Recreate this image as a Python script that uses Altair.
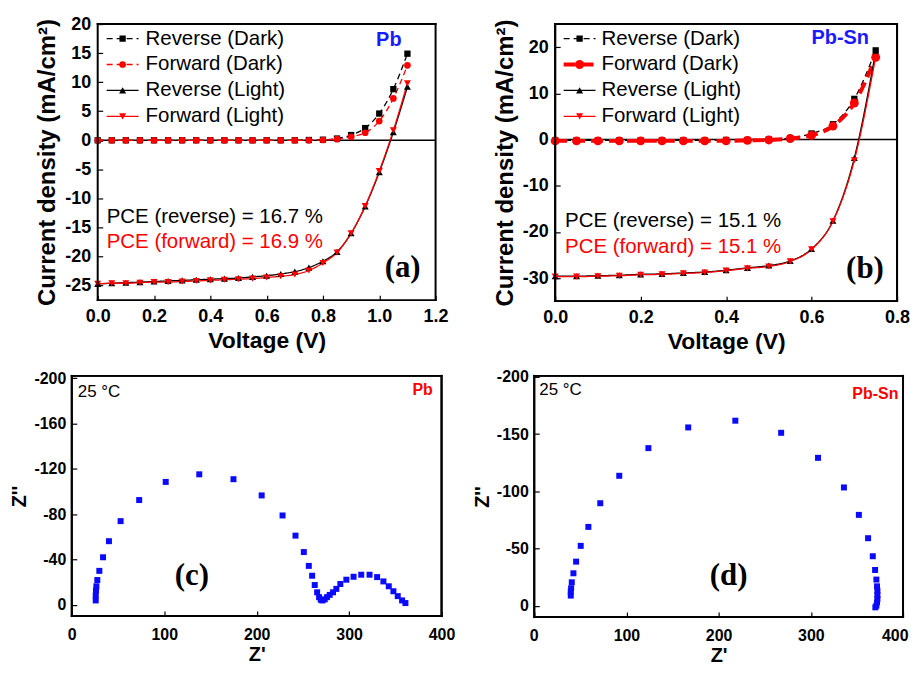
import altair as alt
import pandas as pd

FONT = "Liberation Sans"
SERIF = "Liberation Serif"
RED = "#ff0000"
BLUE = "#1a1aff"
FRAME_W = 2.0

SERIES = ["Reverse (Dark)", "Forward (Dark)", "Reverse (Light)", "Forward (Light)"]
SERIES_PTS = ["pt " + s for s in SERIES]
SERIES_COLORS = ["#000000", RED, "#000000", RED]
SERIES_SHAPES = ["square", "circle", "triangle-up", "triangle-down"]

# ---------------- panel (a): Pb J-V ----------------
V_A = [0.0, 0.05, 0.1, 0.15, 0.2, 0.25, 0.3, 0.35, 0.4, 0.45, 0.5, 0.55,
       0.6, 0.65, 0.7, 0.75, 0.8, 0.85, 0.9, 0.95, 1.0, 1.05, 1.1]
A_REV_DARK = [0.0, 0.0, 0.0, 0.0, 0.0, 0.0, 0.0, 0.0, 0.0, 0.0, 0.0, 0.0,
              0.0, 0.0, 0.0, 0.05, 0.1, 0.3, 0.9, 2.1, 4.6, 8.8, 14.9]
A_FWD_DARK = [0.0, 0.0, 0.0, 0.0, 0.0, 0.0, 0.0, 0.0, 0.0, 0.0, 0.0, 0.0,
              0.0, 0.0, 0.0, 0.0, 0.05, 0.2, 0.6, 1.3, 3.3, 7.2, 12.9]
A_REV_LIGHT = [-24.7, -24.6, -24.5, -24.4, -24.3, -24.2, -24.1, -24.0, -23.9, -23.8, -23.7, -23.5,
               -23.3, -23.0, -22.6, -21.9, -20.8, -19.2, -16.0, -11.4, -5.5, 1.4, 9.2]
A_FWD_LIGHT = [-24.7, -24.6, -24.6, -24.5, -24.4, -24.4, -24.3, -24.2, -24.1, -24.0, -23.9, -23.8,
               -23.6, -23.4, -23.1, -22.4, -21.1, -19.3, -16.0, -11.3, -5.3, 1.7, 9.8]

# ---------------- panel (b): Pb-Sn J-V ----------------
V_B = [0.0, 0.05, 0.1, 0.15, 0.2, 0.25, 0.3, 0.35, 0.4, 0.45, 0.5, 0.55, 0.6, 0.65, 0.7, 0.75]
B_REV_DARK = [-0.2, -0.2, -0.2, -0.2, -0.2, -0.2, -0.2, -0.2, -0.1, -0.1, 0.0, 0.3, 1.3, 3.3, 8.8, 19.3]
B_FWD_DARK = [-0.3, -0.3, -0.3, -0.3, -0.3, -0.3, -0.3, -0.3, -0.3, -0.2, -0.1, 0.2, 0.9, 2.9, 7.9, 17.8]
B_REV_LIGHT = [-29.6, -29.6, -29.5, -29.4, -29.2, -29.1, -28.9, -28.7, -28.3, -27.8, -27.3, -26.3,
               -23.7, -17.6, -4.0, 19.0]
B_FWD_LIGHT = [-29.7, -29.7, -29.6, -29.5, -29.3, -29.2, -29.0, -28.8, -28.4, -27.9, -27.5, -26.4,
               -23.8, -17.7, -4.5, 17.9]

# ---------------- panel (c): Pb Nyquist ----------------
C_ZRE = [25.9, 25.9, 26.2, 26.6, 27.6, 29.8, 33.8, 40.2, 52.8, 72.9, 101.6, 137.9, 174.9, 205.4,
         228.0, 242.0, 251.0, 256.4, 260.0, 262.8, 265.4, 267.5, 269.3, 271.1, 273.6, 276.1, 279.0,
         282.6, 286.2, 290.5, 297.0, 304.8, 313.1, 322.1, 330.3, 337.1, 342.9, 347.9, 352.6, 357.3, 360.9]
C_ZIM = [-3.8, -8.1, -12.5, -16.3, -21.8, -29.9, -41.9, -56.1, -73.8, -92.4, -108.4, -115.1, -110.8,
         -96.5, -78.8, -61.0, -46.5, -34.3, -25.6, -17.4, -11.0, -6.7, -4.4, -3.8, -4.7, -6.7, -8.7,
         -11.0, -14.0, -18.3, -22.1, -24.7, -26.5, -26.5, -24.4, -20.6, -16.3, -11.9, -7.6, -3.8, -1.5]

# ---------------- panel (d): Pb-Sn Nyquist ----------------
D_ZRE = [39.6, 39.6, 40.0, 40.7, 42.5, 45.4, 50.4, 58.7, 71.6, 92.2, 123.8, 167.0, 218.1, 267.8,
         307.8, 335.9, 352.1, 362.1, 367.2, 369.7, 371.1, 371.8, 372.2, 372.2, 372.2, 371.8, 371.1, 370.0]
D_ZIM = [-8.8, -12.3, -15.2, -20.4, -28.3, -38.5, -52.3, -68.9, -89.6, -113.6, -137.8, -155.9, -161.8,
         -151.2, -129.3, -103.4, -79.4, -59.0, -43.2, -31.2, -22.8, -16.9, -13.1, -9.3, -5.8, -2.9, 0.0, 1.5]

X_TICKS_A = [0.0, 0.2, 0.4, 0.6, 0.8, 1.0, 1.2]
Y_TICKS_A = [-25, -20, -15, -10, -5, 0, 5, 10, 15, 20]
X_TICKS_B = [0.0, 0.2, 0.4, 0.6, 0.8]
Y_TICKS_B = [-30, -20, -10, 0, 10, 20]
X_TICKS_CD = [0, 100, 200, 300, 400]
Y_TICKS_C = [-200, -160, -120, -80, -40, 0]
Y_TICKS_D = [-200, -150, -100, -50, 0]

HYPHEN = "replace(datum.label, '\u2212', '-')"


def make_axis(values, title, label_size, title_size, label_pad, title_pad, fmt=None,
              offset=-5, **extra):
    kw = dict(values=values, title=title, labelFont=FONT, labelFontSize=label_size,
              labelFontWeight="bold", labelColor="black", titleFont=FONT,
              titleFontSize=title_size, titleFontWeight="bold", titleColor="black",
              domain=False, ticks=True, tickSize=5, tickColor="black", tickWidth=1.2,
              offset=offset, labelPadding=label_pad, titlePadding=title_pad, grid=False,
              labelFlush=False, labelOverlap=False, labelExpr=HYPHEN)
    if fmt:
        kw["format"] = fmt
    kw.update(extra)
    return alt.Axis(**kw)


def frame_layers(x, y, xdom, ydom):
    x0, x1 = xdom
    y0, y1 = ydom
    hdf = pd.DataFrame({"V": [x0, x0], "V2": [x1, x1], "J": [y0, y1]})
    vdf = pd.DataFrame({"V": [x0, x1], "J": [y0, y0], "J2": [y1, y1]})
    hframe = alt.Chart(hdf).mark_rule(color="black", strokeWidth=FRAME_W, strokeCap="square").encode(
        x=x, x2="V2:Q", y=y)
    vframe = alt.Chart(vdf).mark_rule(color="black", strokeWidth=FRAME_W, strokeCap="square").encode(
        x=x, y=y, y2="J2:Q")
    return [hframe, vframe]


def iv_frame(V, lists):
    rows = []
    for name, pname, vals in zip(SERIES, SERIES_PTS, lists):
        for v, j in zip(V, vals):
            rows.append({"V": v, "J": j, "series": name, "series2": pname})
    return pd.DataFrame(rows)


def text_layer(xenc, yenc, xv, yv, text, **mk):
    df = pd.DataFrame({"V": [xv], "J": [yv]})
    return alt.Chart(df).mark_text(text=text, **mk).encode(x=xenc, y=yenc)


def iv_panel(df, xdom, xticks, ydom, yticks, w, h, xoff, dashes, widths, sizes,
             leg_x, leg_y, leg_off, pt_leg_x, texts):
    x = alt.X("V:Q", scale=alt.Scale(domain=xdom, nice=False, zero=False, range=[xoff, xoff + w]),
              axis=make_axis(xticks, "Voltage (V)", 18, 23, 7, 5, ".1f"))
    y = alt.Y("J:Q", scale=alt.Scale(domain=ydom, nice=False, zero=False),
              axis=make_axis(yticks, "Current density (mA/cm²)", 18, 24, 7, 5,
                             offset=-(xoff + 5)))
    zero_df = pd.DataFrame({"V": [xdom[0]], "V2": [xdom[1]], "J": [0.0]})
    zero = alt.Chart(zero_df).mark_rule(color="black", strokeWidth=1.5).encode(
        x=x, x2="V2:Q", y=y)
    line_leg = alt.Legend(title=None, orient="none", legendX=leg_x, legendY=leg_y,
                          symbolType="stroke", symbolSize=1024, symbolStrokeWidth=1.3,
                          labelFont=FONT, labelFontSize=20.5, labelColor="black",
                          labelOffset=leg_off, labelLimit=400, clipHeight=26,
                          rowPadding=0, padding=0)
    pt_leg = alt.Legend(title=None, orient="none", legendX=pt_leg_x, legendY=leg_y,
                        labelFontSize=1, labelOpacity=0, clipHeight=26, rowPadding=0,
                        padding=0, symbolStrokeWidth=0)
    lines = alt.Chart(df).mark_line(interpolate="monotone").encode(
        x=x, y=y,
        color=alt.Color("series:N", scale=alt.Scale(domain=SERIES, range=SERIES_COLORS), legend=line_leg),
        strokeDash=alt.StrokeDash("series:N", scale=alt.Scale(type="ordinal", domain=SERIES, range=dashes),
                                  legend=line_leg),
        strokeWidth=alt.StrokeWidth("series:N", scale=alt.Scale(type="ordinal", domain=SERIES, range=widths),
                                    legend=line_leg),
    )
    pts = alt.Chart(df).mark_point(filled=True, opacity=1, strokeWidth=0).encode(
        x=x, y=y,
        fill=alt.Fill("series2:N", scale=alt.Scale(domain=SERIES_PTS, range=SERIES_COLORS), legend=pt_leg),
        shape=alt.Shape("series2:N", scale=alt.Scale(domain=SERIES_PTS, range=SERIES_SHAPES), legend=pt_leg),
        size=alt.Size("series2:N", scale=alt.Scale(type="ordinal", domain=SERIES_PTS, range=sizes),
                      legend=pt_leg),
    )
    layers = [zero, lines, pts]
    for (xv, yv, txt, mk) in texts:
        layers.append(text_layer(x, y, xv, yv, txt, **mk))
    layers += frame_layers(x, y, xdom, ydom)
    chart = alt.layer(*layers).properties(width=w + xoff, height=h)
    if xoff:
        chart = chart.properties(view=alt.ViewBackground(stroke="transparent"))
    return chart


def nyq_panel(zre, zim, ydom, yticks, w, h, texts, xaxis_extra):
    df = pd.DataFrame({"V": zre, "J": zim})
    x = alt.X("V:Q", scale=alt.Scale(domain=[0, 400], nice=False, zero=False),
              axis=make_axis(X_TICKS_CD, "Z'", 16, 20, 11, 2, **xaxis_extra))
    y = alt.Y("J:Q", scale=alt.Scale(domain=ydom, nice=False, zero=False, reverse=True),
              axis=make_axis(yticks, "Z''", 16, 20, 6, 4))
    pts = alt.Chart(df).mark_square(size=36, color="#0a0aff", opacity=1).encode(x=x, y=y)
    layers = [pts]
    for (xv, yv, txt, mk) in texts:
        layers.append(text_layer(x, y, xv, yv, txt, **mk))
    layers += frame_layers(x, y, [0, 400], ydom)
    return alt.layer(*layers).properties(width=w, height=h)


pce = dict(font=FONT, fontSize=20.5, align="left", baseline="middle")
lab = dict(font=SERIF, fontSize=31, fontWeight="bold", align="center", baseline="middle", color="black")

panel_a = iv_panel(
    iv_frame(V_A, [A_REV_DARK, A_FWD_DARK, A_REV_LIGHT, A_FWD_LIGHT]),
    [0, 1.2], X_TICKS_A, [-27.5, 20], Y_TICKS_A, 339, 277, 26,
    [[6, 4], [6, 4], [1, 0], [1, 0]], [1.3, 1.3, 1.3, 1.3], [40, 45, 50, 50],
    34, 1.6, 6, 47,
    [
        (0.032, -13.2, "PCE (reverse) = 16.7 %", dict(color="black", **pce)),
        (0.032, -17.5, "PCE (forward) = 16.9 %", dict(color=RED, **pce)),
        (1.083, -21.9, "(a)", lab),
        (1.034, 17.3, "Pb", dict(font=FONT, fontSize=20, fontWeight="bold", color=BLUE,
                                 align="center", baseline="middle")),
    ],
)

panel_b = iv_panel(
    iv_frame(V_B, [B_REV_DARK, B_FWD_DARK, B_REV_LIGHT, B_FWD_LIGHT]),
    [0, 0.8], X_TICKS_B, [-35, 25], Y_TICKS_B, 343, 278, 0,
    [[6, 4], [12, 6], [1, 0], [1, 0]], [1.3, 4, 1.3, 1.3], [40, 80, 50, 50],
    6.5, 1.6, 4, 20,
    [
        (0.023, -17.6, "PCE (reverse) = 15.1 %", dict(color="black", **pce)),
        (0.023, -23.2, "PCE (forward) = 15.1 %", dict(color=RED, **pce)),
        (0.725, -28.1, "(b)", lab),
        (0.667, 22.0, "Pb-Sn", dict(font=FONT, fontSize=20, fontWeight="bold", color=BLUE,
                                    align="center", baseline="middle")),
    ],
)

small = dict(font=FONT, fontSize=17, color="black", align="left", baseline="middle")
panel_c = nyq_panel(
    C_ZRE, C_ZIM, [-202, 10], Y_TICKS_C, 371, 241,
    [
        (6.5, -188, "25 °C", small),
        (379.5, -189.5, "Pb", dict(font=FONT, fontSize=16, fontWeight="bold", color=RED,
                                   align="center", baseline="middle")),
        (130, -25, "(c)", lab),
    ],
    {},
)
panel_d = nyq_panel(
    D_ZRE, D_ZIM, [-201, 10], Y_TICKS_D, 370, 242,
    [
        (5.4, -188.6, "25 °C", small),
        (370.0, -185, "Pb-Sn", dict(font=FONT, fontSize=16, fontWeight="bold", color=RED,
                                    align="center", baseline="middle")),
        (210.8, -26.3, "(d)", lab),
    ],
    {"labelFlush": True, "labelFlushOffset": 5},
)

indep = dict(color="independent", fill="independent", shape="independent",
             strokeDash="independent", strokeWidth="independent", size="independent")
row1 = alt.hconcat(panel_a, panel_b, spacing=42).resolve_scale(**indep)
row2 = alt.hconcat(panel_c, panel_d, spacing=14)

chart = alt.vconcat(row1, row2, spacing=13).properties(
    padding={"left": 0, "top": 5, "right": 0, "bottom": 0},
    background="white",
).configure_view(stroke="black", strokeWidth=FRAME_W)

chart.save("out.html", embed_options={"renderer": "svg", "actions": False})
